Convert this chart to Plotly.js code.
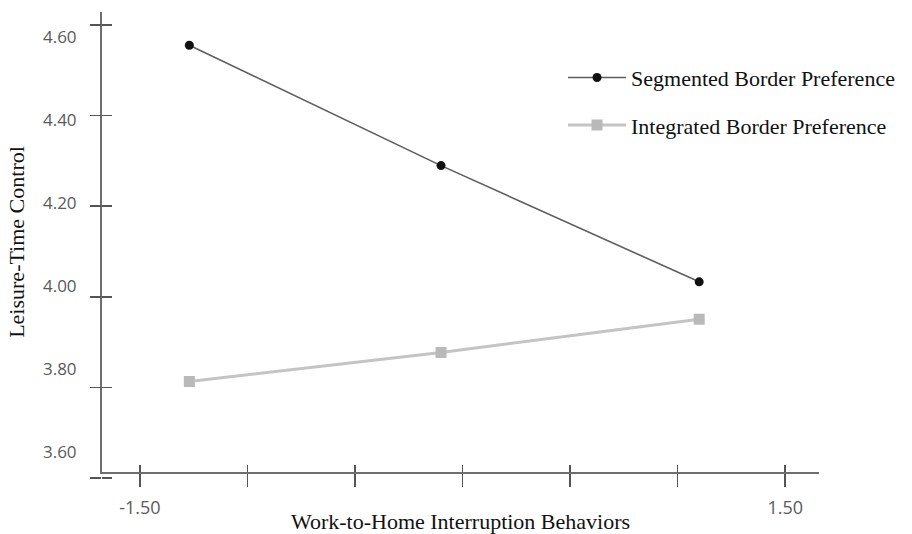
<!DOCTYPE html>
<html>
<head>
<meta charset="utf-8">
<script src="https://cdn.plot.ly/plotly-3.0.1.min.js"></script>
<style>
  html, body { margin: 0; padding: 0; background: #ffffff; }
  #chart { width: 912px; height: 534px; }
</style>
</head>
<body>
<div id="chart"></div>
<script>
// ---- data ----
const seriesNames = ['Segmented Border Preference', 'Integrated Border Preference'];
const xValues = [-1.27, -0.10, 1.10];
const segmented = [4.58, 4.29, 4.01];
const integrated = [3.77, 3.84, 3.92];
const yTickVals = [3.6, 3.8, 4.0, 4.2, 4.4, 4.6];
const yTickText = ['3.60', '3.80', '4.00', '4.20', '4.40', '4.60'];
const xTickVals = [-1.5, -1.0, -0.5, 0, 0.5, 1.0, 1.5];
const xTickText = ['-1.50', '', '', '', '', '', '1.50'];
const xTitle = 'Work-to-Home Interruption Behaviors';
const yTitle = 'Leisure-Time Control';

const labelFont = { family: '"Open Sans", sans-serif', size: 17, color: '#5a5a5a' };
const serif = '"Liberation Serif", "Times New Roman", serif';

// empty helper traces so that the tick-mark-only axes get drawn
function axisHolder(xa, ya) {
  return { x: [], y: [], xaxis: xa, yaxis: ya, type: 'scatter', mode: 'markers',
           showlegend: false, hoverinfo: 'skip' };
}

const traces = [
  {
    x: xValues, y: segmented, name: seriesNames[0], type: 'scatter', mode: 'lines+markers',
    line: { color: '#5e5e5e', width: 1.6 },
    marker: { symbol: 'circle', size: 9, color: '#111111' },
    legendgroup: 'a'
  },
  {
    x: xValues, y: integrated, name: seriesNames[1], type: 'scatter', mode: 'lines+markers',
    line: { color: '#c4c4c4', width: 3 },
    marker: { symbol: 'square', size: 11, color: '#b9b9b9' },
    legendgroup: 'b'
  },
  axisHolder('x2', 'y'),
  axisHolder('x', 'y2'),
  axisHolder('x', 'y3')
];

const layout = {
  width: 912, height: 534,
  margin: { l: 102, r: 90, t: 12, b: 52 },
  paper_bgcolor: '#ffffff', plot_bgcolor: 'rgba(0,0,0,0)',
  showlegend: true,
  legend: {
    x: 0.643, xanchor: 'left', y: 0.905, yanchor: 'top',
    font: { family: serif, size: 22, color: '#111111' },
    itemwidth: 58, tracegroupgap: 16, bgcolor: 'rgba(0,0,0,0)'
  },
  xaxis: {
    range: [-1.676, 1.657], anchor: 'y',
    tickmode: 'array', tickvals: xTickVals, ticktext: xTickText,
    ticks: 'outside', ticklen: 13, tickwidth: 1.5, tickcolor: '#555555',
    ticklabelstandoff: 5,
    tickfont: { family: '"Open Sans", sans-serif', size: 18, color: '#5a5a5a' },
    showline: true, linecolor: '#6e6e6e', linewidth: 2,
    showgrid: false, zeroline: false,
    title: { text: xTitle, font: { family: serif, size: 22, color: '#111111' }, standoff: 0 }
  },
  xaxis2: {
    range: [-1.676, 1.657], overlaying: 'x', anchor: 'y',
    tickmode: 'array', tickvals: xTickVals,
    ticks: 'inside', ticklen: 7, tickwidth: 1.5, tickcolor: '#555555',
    showticklabels: false, showline: false, showgrid: false, zeroline: false
  },
  yaxis: {
    range: [3.552, 4.660], domain: [0.02128, 1], anchor: 'x',
    tickmode: 'array', tickvals: yTickVals, ticktext: yTickText,
    ticks: '', ticklabelstandoff: 20,
    tickfont: labelFont,
    showline: true, linecolor: '#6e6e6e', linewidth: 2,
    showgrid: false, zeroline: false,
    title: { text: yTitle, font: { family: serif, size: 22, color: '#111111' }, standoff: 12 }
  },
  yaxis2: {
    range: [3.5912, 4.6287], domain: [0, 1], anchor: 'x',
    tickmode: 'array', tickvals: yTickVals,
    ticks: 'outside', ticklen: 11, tickwidth: 1.5, tickcolor: '#555555',
    showticklabels: false, showline: false, showgrid: false, zeroline: false
  },
  yaxis3: {
    range: [3.5912, 4.6287], domain: [0, 1], anchor: 'x',
    tickmode: 'array', tickvals: yTickVals,
    ticks: 'inside', ticklen: 10, tickwidth: 1.5, tickcolor: '#555555',
    showticklabels: false, showline: false, showgrid: false, zeroline: false
  }
};

Plotly.newPlot('chart', traces, layout, { displayModeBar: false, staticPlot: true });
</script>
</body>
</html>
